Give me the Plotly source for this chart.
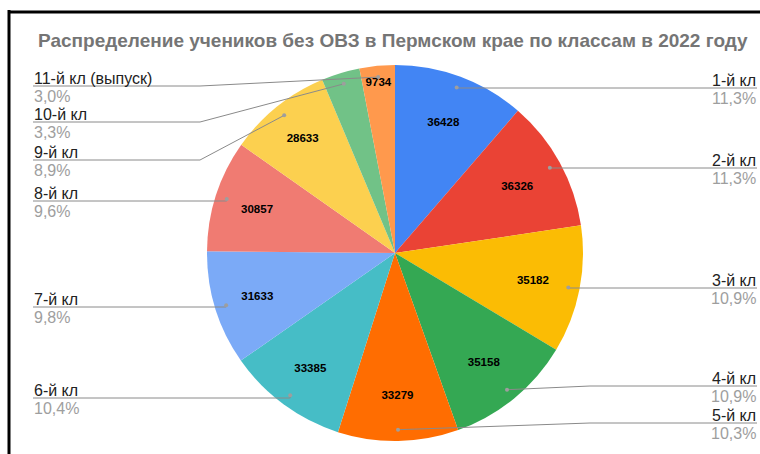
import math
import plotly.graph_objects as go

# ---- data ----
categories = ["1-й кл", "2-й кл", "3-й кл", "4-й кл", "5-й кл", "6-й кл",
              "7-й кл", "8-й кл", "9-й кл", "10-й кл", "11-й кл (выпуск)"]
values = [36428, 36326, 35182, 35158, 33279, 33385, 31633, 30857, 28633, 10600, 9734]
value_labels = ["36428", "36326", "35182", "35158", "33279", "33385",
                "31633", "30857", "28633", "", "9734"]
percent_labels = ["11,3%", "11,3%", "10,9%", "10,9%", "10,3%", "10,4%",
                  "9,8%", "9,6%", "8,9%", "3,3%", "3,0%"]
colors = ["#4285F4", "#EA4335", "#FBBC04", "#34A853", "#FF6D01", "#46BDC6",
          "#7BAAF7", "#F07B72", "#FCD04F", "#71C287", "#FF994D"]
title_text = "Распределение учеников без ОВЗ в Пермском крае по классам в 2022 году"

# ---- layout constants (pixels) ----
W, H = 760, 454
CX, CY, R = 395, 253, 188
label_side = ["r", "r", "r", "r", "r", "l", "l", "l", "l", "l", "l"]
label_line_y = [88, 168, 288, 386, 423, 398, 307, 201, 160, 122, 86]
RIGHT_X, LEFT_X = 757, 33
RIGHT_ELBOW, LEFT_ELBOW = 590, 200
FONT = "Arial, 'Liberation Sans', sans-serif"


def px(x):
    return x / W


def py(y):
    return 1 - y / H


fig = go.Figure(go.Pie(
    labels=categories, values=values, text=value_labels,
    texttemplate="%{text}", textinfo="text",
    textposition="inside", insidetextorientation="horizontal",
    insidetextfont=dict(family=FONT, size=11.5, color="#000000", weight="bold"),
    marker=dict(colors=colors, line=dict(width=0)),
    sort=False, direction="clockwise", rotation=0,
    showlegend=False, hoverinfo="label+value+percent",
    domain=dict(x=[px(CX - R), px(CX + R)], y=[py(CY + R), py(CY - R)]),
))

shapes = []
annotations = []
total = sum(values)
cum = 0.0
for i, v in enumerate(values):
    mid = (cum + v / 2) / total
    cum += v
    ang = mid * 2 * math.pi
    dx = CX + 0.94 * R * math.sin(ang)
    dy = CY - 0.94 * R * math.cos(ang)
    ly = label_line_y[i]
    if label_side[i] == "r":
        ex = max(dx, RIGHT_ELBOW) if abs(ly - dy) > 3 else dx
        endx = RIGHT_X
        xanchor = "right"
    else:
        ex = min(dx, LEFT_ELBOW) if abs(ly - dy) > 3 else dx
        endx = LEFT_X
        xanchor = "left"
    path = f"M {px(dx)} {py(dy)} L {px(ex)} {py(ly)} L {px(endx)} {py(ly)}"
    shapes.append(dict(type="path", path=path, xref="paper", yref="paper",
                       line=dict(color="#8a8a8a", width=1)))
    shapes.append(dict(type="circle", xref="paper", yref="paper",
                       x0=px(dx - 2), x1=px(dx + 2), y0=py(dy + 2), y1=py(dy - 2),
                       fillcolor="#9e9e9e", line=dict(width=0)))
    annotations.append(dict(text=categories[i], x=px(endx), y=py(ly + 2),
                            xref="paper", yref="paper", xanchor=xanchor, yanchor="bottom",
                            showarrow=False, borderpad=0,
                            font=dict(family=FONT, size=16, color="#222222")))
    annotations.append(dict(text=percent_labels[i], x=px(endx), y=py(ly + 1),
                            xref="paper", yref="paper", xanchor=xanchor, yanchor="top",
                            showarrow=False, borderpad=0,
                            font=dict(family=FONT, size=16, color="#9e9e9e")))

annotations.append(dict(text=f"<b>{title_text}</b>", x=px(36), y=py(40), xref="paper", yref="paper",
                        xanchor="left", yanchor="middle", showarrow=False,
                        font=dict(family=FONT, size=19, color="#757575")))

# frame lines
shapes.append(dict(type="line", xref="paper", yref="paper", x0=px(9), x1=px(9), y0=py(10), y1=py(H + 5),
                   line=dict(color="#000000", width=3)))
shapes.append(dict(type="line", xref="paper", yref="paper", x0=px(8), x1=px(W + 5), y0=py(12), y1=py(12),
                   line=dict(color="#000000", width=3)))

fig.update_layout(width=W, height=H, margin=dict(l=0, r=0, t=0, b=0),
                  paper_bgcolor="#ffffff", plot_bgcolor="#ffffff",
                  shapes=shapes, annotations=annotations)

fig.write_html("out.html", config={"displayModeBar": False},
               post_script="document.body.style.margin='0';document.body.style.overflow='hidden';")
